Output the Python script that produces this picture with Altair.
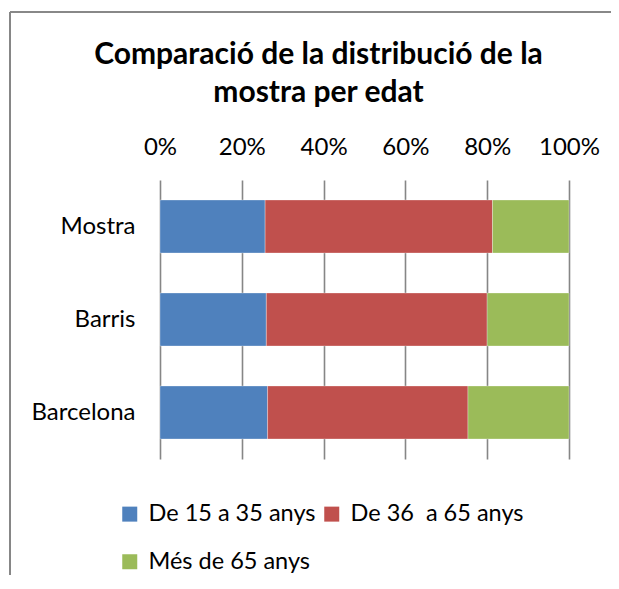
import altair as alt
import pandas as pd

categories = ["Mostra", "Barris", "Barcelona"]
groups = ["De 15 a 35 anys", "De 36\u00a0 a 65 anys", "Més de 65 anys"]
young = [25.7, 26.0, 26.3]
middle = [55.6, 54.0, 49.0]
older = [18.7, 20.0, 24.7]
colors = ["#4F81BD", "#C0504D", "#9BBB59"]
ticks = [0, 0.2, 0.4, 0.6, 0.8, 1.0]

rows = []
for i, c in enumerate(categories):
    for j, (g, vals) in enumerate(zip(groups, [young, middle, older])):
        rows.append({"cat": c, "grp": g, "val": vals[i], "ord": j})
df = pd.DataFrame(rows)

FONT = "Lato"

bars = alt.Chart(df).mark_bar(stroke="white", strokeWidth=0.5, strokeOpacity=0.6).encode(
    y=alt.Y("cat:N", sort=categories,
            scale=alt.Scale(paddingInner=0.43, paddingOuter=0.215),
            axis=alt.Axis(title=None, ticks=False, domain=False, labelPadding=25,
                          labelFontSize=24, labelFont=FONT, labelColor="#000000")),
    x=alt.X("val:Q", stack="normalize",
            scale=alt.Scale(domain=[0, 1], nice=False),
            axis=alt.Axis(orient="top", title=None, format=".0%", values=ticks,
                          ticks=False, domain=False, labelPadding=26, labelFlush=False,
                          labelBaseline="alphabetic", labelAlign="center",
                          labelFontSize=24, labelFont=FONT, labelColor="#000000",
                          grid=True, gridColor="#868686", gridWidth=1.6)),
    color=alt.Color("grp:N", sort=groups,
                    scale=alt.Scale(domain=groups, range=colors),
                    legend=alt.Legend(title=None, orient="none", legendX=-42, legendY=322,
                                      direction="horizontal", columns=2,
                                      symbolType="square", symbolSize=225,
                                      symbolStrokeWidth=0, labelFontSize=23.5, labelFont=FONT,
                                      labelColor="#000000", labelOffset=7, columnPadding=4,
                                      rowPadding=23, padding=0, labelLimit=300)),
    order=alt.Order("ord:Q"),
)

frame_v = alt.Chart(df).mark_rule(color="#878787", strokeWidth=1.2).encode(
    x=alt.value(-150), x2=alt.value(-150), y=alt.value(-168), y2=alt.value(420))
frame_h = alt.Chart(df).mark_rule(color="#878787", strokeWidth=1.2).encode(
    x=alt.value(-150), x2=alt.value(451), y=alt.value(-168), y2=alt.value(-168))

chart = alt.layer(frame_v, frame_h, bars).properties(
    width=409, height=279,
    autosize=alt.AutoSizeParams(type="none"),
    padding={"left": 152, "top": 172, "right": 42, "bottom": 116},
    title=alt.Title(["Comparació de la distribució de la", "mostra per edat"],
                    font=FONT, fontSize=30, fontWeight="bold", color="#000000",
                    anchor="middle", dx=-46, lineHeight=38, offset=0, dy=97),
).configure_view(stroke=None)

chart.save("out.html", embed_options={"renderer": "svg", "actions": False})
